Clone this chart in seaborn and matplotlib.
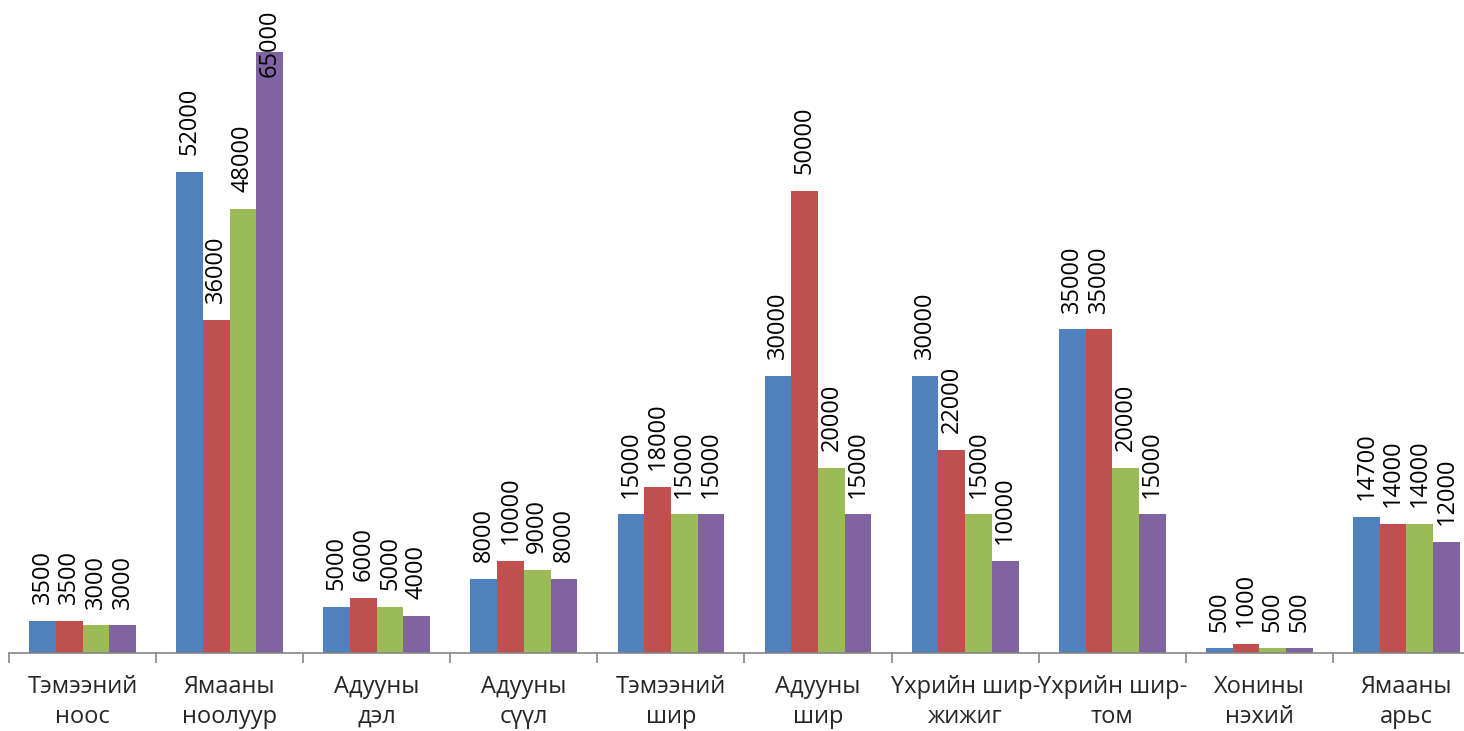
import pandas as pd
import numpy as np
import matplotlib
matplotlib.use("Agg")
import matplotlib.pyplot as plt
import seaborn as sns

categories = [
    "Тэмээний\nноос", "Ямааны\nноолуур", "Адууны\nдэл", "Адууны\nсүүл",
    "Тэмээний\nшир", "Адууны\nшир", "Үхрийн шир-\nжижиг", "Үхрийн шир-\nтом",
    "Хонины\nнэхий", "Ямааны\nарьс",
]
series_names = ["s1", "s2", "s3", "s4"]
s1 = [3500, 52000, 5000, 8000, 15000, 30000, 30000, 35000, 500, 14700]
s2 = [3500, 36000, 6000, 10000, 18000, 50000, 22000, 35000, 1000, 14000]
s3 = [3000, 48000, 5000, 9000, 15000, 20000, 15000, 20000, 500, 14000]
s4 = [3000, 65000, 4000, 8000, 15000, 15000, 10000, 15000, 500, 12000]
colors = ["#4F81BD", "#C0504D", "#9BBB59", "#8064A2"]

rows = []
for name, vals in zip(series_names, [s1, s2, s3, s4]):
    for c, v in zip(categories, vals):
        rows.append({"cat": c, "series": name, "value": v})
df = pd.DataFrame(rows)

sns.set_theme(style="white")
plt.rcParams["font.family"] = ["Open Sans", "DejaVu Sans"]

W, H = 1464, 731
fig = plt.figure(figsize=(W / 100, H / 100), dpi=100)
ax = fig.add_axes([9 / W, 78 / H, 1471 / W, 653 / H])

sns.barplot(data=df, x="cat", y="value", hue="series", order=categories,
            hue_order=series_names, palette=colors, width=0.726, gap=0,
            linewidth=0, saturation=1, legend=False, ax=ax)

ymax = 70600
ax.set_ylim(0, ymax)
ax.set_xlim(-0.5, len(categories) - 0.5)

# value labels, rotated like the original
for cont, vals in zip(ax.containers, [s1, s2, s3, s4]):
    for bar, v in zip(cont, vals):
        cx = bar.get_x() + bar.get_width() / 2
        if v > 62000:
            ax.annotate(f"{v}", (cx, ymax), xytext=(0, -7), textcoords="offset points",
                        rotation=90, ha="center", va="top", fontsize=17, color="black")
        else:
            ax.annotate(f"{v}", (cx, v), xytext=(0, 12), textcoords="offset points",
                        rotation=90, ha="center", va="bottom", fontsize=17, color="black")

for s in ["top", "right", "left"]:
    ax.spines[s].set_visible(False)
ax.spines["bottom"].set_color("#868686")
ax.spines["bottom"].set_linewidth(1.2)

ax.set_yticks([])
ax.set_xticks(np.arange(len(categories)))
ax.set_xticklabels(categories, fontsize=17, linespacing=1.3)
ax.set_xticks(np.arange(len(categories) + 1) - 0.5, minor=True)
ax.tick_params(axis="x", which="major", length=0, pad=16)
ax.tick_params(axis="x", which="minor", length=7, width=1.2, color="#868686",
               direction="out", bottom=True)
ax.set_xlabel("")
ax.set_ylabel("")

fig.savefig("out.png", dpi=100)
